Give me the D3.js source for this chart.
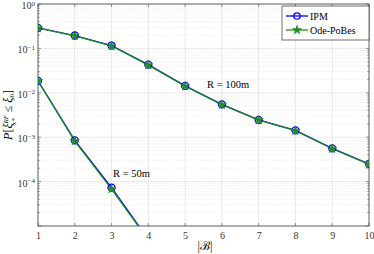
<!DOCTYPE html>
<html>
<head>
<meta charset="utf-8">
<script src="https://cdn.jsdelivr.net/npm/d3@7"></script>
<style>
body { margin: 0; background: #fff; }
text { font-family: "Liberation Serif", "DejaVu Serif", serif; }
</style>
</head>
<body>
<div id="chart"></div>
<script>
var w = 374, h = 254;
var margin = {top: 4, right: 5, bottom: 28, left: 38};

// data
var xs = [1, 2, 3, 4, 5, 6, 7, 8, 9, 10];
var ipm100 = [0.29, 0.195, 0.116, 0.043, 0.0143, 0.0055, 0.00245, 0.00142, 0.00056, 0.00025];
var ode100 = [0.285, 0.192, 0.114, 0.042, 0.0141, 0.0054, 0.00243, 0.0014, 0.00055, 0.000245];
var xs50 = [1, 2, 3, 4];
var ipm50 = [0.0186, 0.00085, 0.000073, 0.000005];
var ode50 = [0.0184, 0.00082, 0.000068, 0.0000048];
var yTicks = [1, 0.1, 0.01, 0.001, 0.0001, 0.00001];
var yExp = [0, -1, -2, -3, -4, -5];

var xScale = d3.scaleLinear().domain([1, 10]).range([margin.left, w - margin.right]);
var yScale = d3.scaleLog().domain([1e-5, 1]).range([h - margin.bottom, margin.top]);

var svg = d3.select("#chart").append("svg").attr("width", w).attr("height", h);

svg.append("clipPath").attr("id", "clip")
    .append("rect")
    .attr("x", margin.left).attr("y", margin.top)
    .attr("width", w - margin.left - margin.right)
    .attr("height", h - margin.top - margin.bottom);

// minor grid
var minor = [];
yExp.forEach(function(e) {
    if (e === 0) return;
    for (var k = 2; k <= 9; k++) minor.push(k * Math.pow(10, e));
});
svg.selectAll(".minor").data(minor).enter().append("line")
    .attr("x1", margin.left).attr("x2", w - margin.right)
    .attr("y1", function(d) { return yScale(d); })
    .attr("y2", function(d) { return yScale(d); })
    .attr("stroke", "#e4e4e4").attr("stroke-width", 0.6)
    .attr("stroke-dasharray", "1.5,1.5");

// major grid
svg.selectAll(".gy").data(yTicks).enter().append("line")
    .attr("x1", margin.left).attr("x2", w - margin.right)
    .attr("y1", function(d) { return yScale(d); })
    .attr("y2", function(d) { return yScale(d); })
    .attr("stroke", "#dedede").attr("stroke-width", 0.7);
svg.selectAll(".gx").data(xs).enter().append("line")
    .attr("y1", margin.top).attr("y2", h - margin.bottom)
    .attr("x1", function(d) { return xScale(d); })
    .attr("x2", function(d) { return xScale(d); })
    .attr("stroke", "#dedede").attr("stroke-width", 0.7);

// axes
var xAxis = d3.axisBottom(xScale).tickValues(xs).tickSize(0).tickPadding(6).tickFormat(d3.format("d"));
var gx = svg.append("g")
    .attr("transform", "translate(0," + (h - margin.bottom) + ")")
    .call(xAxis);
gx.select(".domain").remove();
gx.selectAll("text").style("font-size", "10px").attr("fill", "#333");

// 10^-5 sits on the bottom edge and has no label in the original
var yAxis = d3.axisLeft(yScale).tickValues(yTicks.slice(0, 5)).tickSize(0).tickPadding(3).tickFormat("");
var gy = svg.append("g").attr("transform", "translate(" + margin.left + ",0)").call(yAxis);
gy.select(".domain").remove();
gy.selectAll(".tick text").each(function(d, i) {
    var t = d3.select(this).style("font-size", "10px").attr("fill", "#333").attr("dy", "0.45em");
    t.append("tspan").text("10");
    t.append("tspan").attr("dy", "-0.5em").style("font-size", "7px").text(yExp[i] === 0 ? "0" : "\u2212" + (-yExp[i]));
});

// frame ticks
var ticksG = svg.append("g").attr("stroke", "#555").attr("stroke-width", 0.6);
xs.forEach(function(d) {
    ticksG.append("line").attr("x1", xScale(d)).attr("x2", xScale(d))
        .attr("y1", h - margin.bottom).attr("y2", h - margin.bottom - 3);
    ticksG.append("line").attr("x1", xScale(d)).attr("x2", xScale(d))
        .attr("y1", margin.top).attr("y2", margin.top + 3);
});
yTicks.concat(minor).forEach(function(d) {
    var len = yTicks.indexOf(d) >= 0 ? 3 : 1.8;
    ticksG.append("line").attr("x1", margin.left).attr("x2", margin.left + len)
        .attr("y1", yScale(d)).attr("y2", yScale(d));
    ticksG.append("line").attr("x1", w - margin.right).attr("x2", w - margin.right - len)
        .attr("y1", yScale(d)).attr("y2", yScale(d));
});
svg.append("rect")
    .attr("x", margin.left).attr("y", margin.top)
    .attr("width", w - margin.left - margin.right)
    .attr("height", h - margin.top - margin.bottom)
    .attr("fill", "none").attr("stroke", "#444").attr("stroke-width", 0.8);

// series
var plot = svg.append("g").attr("clip-path", "url(#clip)");
function line(xv) {
    return d3.line()
        .x(function(d, i) { return xScale(xv[i]); })
        .y(function(d) { return yScale(d); });
}
var star = d3.symbol().type(d3.symbolStar).size(26);

function drawSeries(xv, ipm, ode) {
    plot.append("path").datum(ipm)
        .attr("fill", "none").attr("stroke", "#0000ff").attr("stroke-width", 1.3)
        .attr("d", line(xv));
    plot.append("path").datum(ode)
        .attr("fill", "none").attr("stroke", "#228b22").attr("stroke-width", 1.3)
        .attr("d", line(xv));
    plot.selectAll(null).data(ipm).enter().append("circle")
        .attr("cx", function(d, i) { return xScale(xv[i]); })
        .attr("cy", function(d) { return yScale(d); })
        .attr("r", 3.5)
        .attr("fill", "none").attr("stroke", "#0000ff").attr("stroke-width", 1.3);
    plot.selectAll(null).data(ode).enter().append("path")
        .attr("transform", function(d, i) { return "translate(" + xScale(xv[i]) + "," + yScale(d) + ")"; })
        .attr("d", star)
        .attr("fill", "#228b22").attr("stroke", "#228b22").attr("stroke-width", 0.6);
}
drawSeries(xs, ipm100, ode100);
drawSeries(xs50, ipm50, ode50);

// annotations
svg.append("text").attr("x", 207).attr("y", 88).style("font-size", "10.5px").text("R = 100m");
svg.append("text").attr("x", 113).attr("y", 177).style("font-size", "10.5px").text("R = 50m");

// legend
var lg = svg.append("g").attr("transform", "translate(282,6)");
lg.append("rect").attr("width", 87).attr("height", 34)
    .attr("fill", "#fff").attr("stroke", "#333").attr("stroke-width", 0.7);
lg.append("line").attr("x1", 4).attr("x2", 26).attr("y1", 10).attr("y2", 10)
    .attr("stroke", "#0000ff").attr("stroke-width", 1.3);
lg.append("circle").attr("cx", 15).attr("cy", 10).attr("r", 3.2)
    .attr("fill", "none").attr("stroke", "#0000ff").attr("stroke-width", 1.3);
lg.append("text").attr("x", 28).attr("y", 14).style("font-size", "10px").text("IPM");
lg.append("line").attr("x1", 4).attr("x2", 26).attr("y1", 24).attr("y2", 24)
    .attr("stroke", "#228b22").attr("stroke-width", 1.3);
lg.append("path").attr("transform", "translate(15,24)").attr("d", star)
    .attr("fill", "#228b22").attr("stroke", "#228b22").attr("stroke-width", 0.6);
lg.append("text").attr("x", 28).attr("y", 28).style("font-size", "10px").text("Ode-PoBes");

// axis labels
svg.append("text").attr("x", 205).attr("y", 250).attr("text-anchor", "middle")
    .style("font-size", "12px").text("|\u212C|");
var yl = svg.append("text")
    .attr("transform", "translate(12," + ((h - margin.bottom + margin.top) / 2) + ") rotate(-90)")
    .attr("text-anchor", "middle").style("font-size", "12px").style("font-style", "italic");
yl.append("tspan").text("P");
yl.append("tspan").style("font-style", "normal").text("[");
yl.append("tspan").text("\u03BE");
yl.append("tspan").attr("dy", "-4").style("font-size", "7px").text("RF");
yl.append("tspan").attr("dx", "-10").attr("dy", "8").style("font-size", "7px").text("x*");
yl.append("tspan").attr("dx", "3").attr("dy", "-4").style("font-style", "normal").text(" \u2264 ");
yl.append("tspan").text("\u03BE");
yl.append("tspan").attr("dy", "2").style("font-size", "7px").style("font-style", "normal").text("0");
yl.append("tspan").attr("dy", "-2").style("font-style", "normal").text("]");
</script>
</body>
</html>
